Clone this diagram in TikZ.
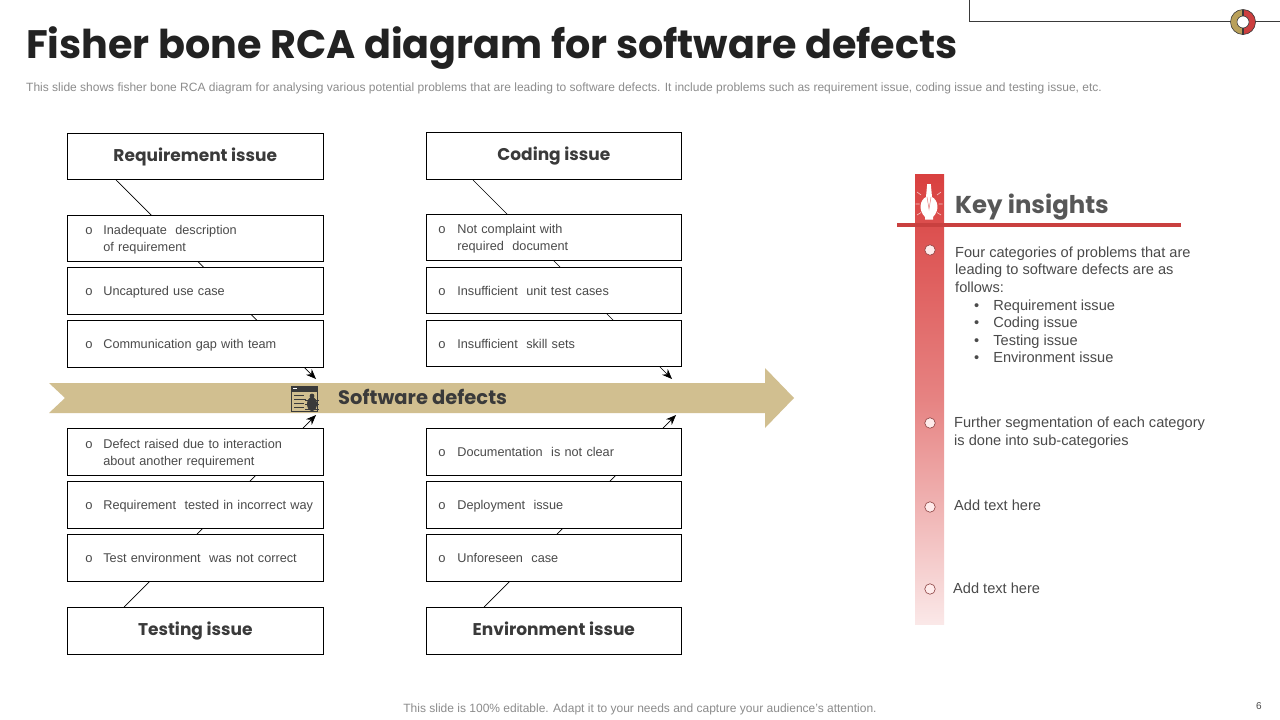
\documentclass[tikz,border=0pt]{standalone}
\usepackage{fontspec}
\setmainfont{Liberation Sans}
\newfontfamily\headfont{Poppins}[BoldFont={* Bold}]
\usetikzlibrary{arrows.meta}
\definecolor{tan}{HTML}{D1BF90}
\definecolor{barred}{HTML}{D9403F}
\definecolor{linered}{HTML}{C9403F}
\definecolor{ink}{HTML}{3A3A3A}
\definecolor{titleink}{HTML}{222222}
\definecolor{itemink}{HTML}{4A4A4A}
\definecolor{subgray}{HTML}{8C8C8C}
\definecolor{ringgold}{HTML}{B9A05A}
\definecolor{ringred}{HTML}{CC3F3F}
\definecolor{markline}{HTML}{8A3F3F}
\tikzset{
 x=1pt,y=-1pt,
 bone/.style={draw=black,line width=0.7pt,-{Stealth[length=10pt,width=8pt]}},
 headbox/.style={draw=black,fill=white,line width=0.7pt,inner sep=0pt,anchor=north west,text height=13pt,text depth=4pt,font=\headfont\bfseries\fontsize{17}{20}\selectfont,text=ink},
 itembox/.style={draw=black,fill=white,line width=0.7pt,anchor=north west,inner xsep=0pt,inner ysep=0pt,align=left,font=\fontsize{12.7}{17}\selectfont,text=itemink},
 leftcol/.style={minimum width=255.9pt},
 rightcol/.style={minimum width=255pt},
 leftitem/.style={itembox,text width=255.9pt},
 rightitem/.style={itembox,text width=255pt},
 marker/.style={circle,draw=markline,line width=0.6pt,fill=white!92!red,minimum size=10.5pt,inner sep=0pt},
 plain/.style={inner sep=0pt,anchor=west,align=left,text=itemink},
}
\newcommand{\lnstrut}{\rule[-3.5pt]{0pt}{12pt}}
\newcommand{\topstrut}{\rule[-3.5pt]{0pt}{16.5pt}}
\newcommand{\bul}[2]{\topstrut\makebox[#2pt][l]{\hspace*{#1pt}\fontsize{13}{13}\selectfont o}}
\newcommand{\LL}{\bul{18}{36}}
\newcommand{\LC}{\lnstrut\hspace*{36pt}}
\newcommand{\RL}{\bul{12}{31}}
\newcommand{\RC}{\lnstrut\hspace*{31pt}}
\begin{document}
\begin{tikzpicture}
\useasboundingbox (0,0) rectangle (1280,720);
\fill[white] (0,0) rectangle (1280,720);
% corner
\draw[ink,line width=0.9pt] (969,0) -- (969,21) -- (1280,21);
\fill[ringgold] (1243,9.5) arc[start angle=-90,end angle=-270,radius=12.5] -- cycle;
\fill[ringred] (1243,9.5) arc[start angle=-90,end angle=90,radius=12.5] -- cycle;
\draw[ink,line width=0.6pt] (1243,22) circle[radius=12.5];
\fill[ink] (1242.3,9.5) rectangle (1243.7,34.5);
\draw[ink,line width=0.6pt,fill=white] (1243,22) circle[radius=6];
% title
\node[anchor=base west,inner sep=0pt,font=\headfont\bfseries\fontsize{39.7}{44}\selectfont,text=titleink] (title) at (26,58) {Fisher bone RCA diagram for software defects};
\node[anchor=west,inner sep=0pt,font=\fontsize{12}{14}\selectfont,text=subgray] (sub) at (26,88) {This slide shows fisher bone RCA diagram for analysing various potential problems that are leading to software defects. It include problems such as requirement issue, coding issue and testing issue, etc.};
% spine
\fill[tan] (49,383) -- (765,383) -- (765,368) -- (794,398) -- (765,428) -- (765,413) -- (49,413) -- (65,398) -- cycle;
\node[anchor=west,inner sep=0pt,font=\headfont\bfseries\fontsize{19.5}{22}\selectfont,text=ink] (spine) at (338,397) {Software defects};
% headers
\node[headbox,leftcol,minimum height=46.4pt] (h1) at (67,133) {Requirement issue};
\node[headbox,rightcol,minimum height=47.4pt] (h2) at (426,132) {Coding issue};
\node[headbox,leftcol,minimum height=47.4pt] (h3) at (67,607) {Testing issue};
\node[headbox,rightcol,minimum height=47.4pt] (h4) at (426,607) {Environment issue};
% bones
\coordinate (t1) at (316,379);
\coordinate (t2) at (672,379);
\coordinate (t3) at (316,415);
\coordinate (t4) at (676,415);
\coordinate (s1) at (116,180);
\coordinate (s2) at (473,180);
\coordinate (s3) at (124,607);
\coordinate (s4) at (484,607);
\draw[bone] (s1) -- (t1);
\draw[bone] (s2) -- (t2);
\draw[bone] (s3) -- (t3);
\draw[bone] (s4) -- (t4);
% left items
\node[leftitem,minimum height=46.4pt] (a1) at (67,215) {\LL Inadequate\ \ description\\\LC of requirement};
\node[leftitem,minimum height=47.4pt] (a2) at (67,267) {\LL Uncaptured use case};
\node[leftitem,minimum height=47.4pt] (a3) at (67,320) {\LL Communication gap with team};
\node[leftitem,minimum height=47.4pt] (a4) at (67,428) {\LL Defect raised due to interaction\\\LC about another requirement};
\node[leftitem,minimum height=47.4pt] (a5) at (67,481) {\LL Requirement\ \ tested in incorrect way};
\node[leftitem,minimum height=47.4pt] (a6) at (67,534) {\LL Test environment\ \ was not correct};
% right items
\node[rightitem,minimum height=46.4pt] (b1) at (426,214) {\RL Not complaint with\\\RC required\ \ document};
\node[rightitem,minimum height=46.4pt] (b2) at (426,267) {\RL Insufficient\ \ unit test cases};
\node[rightitem,minimum height=46.4pt] (b3) at (426,320) {\RL Insufficient\ \ skill sets};
\node[rightitem,minimum height=47.4pt] (b4) at (426,428) {\RL Documentation\ \ is not clear};
\node[rightitem,minimum height=47.4pt] (b5) at (426,481) {\RL Deployment\ \ issue};
\node[rightitem,minimum height=47.4pt] (b6) at (426,534) {\RL Unforeseen\ \ case};
% bug icon
\begin{scope}[ink]
\draw[line width=1pt] (291,386) rectangle (317,411);
\fill (291,386) rectangle (317,391.5);
\draw[white,line width=0.6pt] (293,388.7) -- (297,388.7);
\draw[line width=1pt] (294,395) -- (304,395) (294,399) -- (306,399) (294,403) -- (304,403) (294,407) -- (304,407);
\fill (312,404) ellipse[x radius=5,y radius=7];
\fill (312,396) circle[radius=2.4];
\draw[line width=0.7pt] (305,400) -- (319,400) (305,404.5) -- (319,404.5) (305,409) -- (319,409);
\end{scope}
% key insights bar
\shade[top color=barred,bottom color=barred!12,middle color=barred!65] (915,174) rectangle (944,624);
\fill[linered] (897,223) rectangle (1181,227);
% bulb
\begin{scope}[white]
\fill (927.2,184) -- (930.8,184) -- (932,197) .. controls (938,200) and (940,210) .. (933,217) -- (933,219.5) -- (925,219.5) -- (925,217) .. controls (918,210) and (920,200) .. (926,197) -- cycle;
\draw[line width=0.6pt,white!70!barred] (917,192) -- (921,195) (941,192) -- (937,195) (915.5,204) -- (919.5,204) (942.5,204) -- (938.5,204) (917,215) -- (921,212.5) (941,215) -- (937,212.5);
\draw[barred!70,line width=0.5pt] (927,197) -- (929,209) -- (931,197);
\end{scope}
\node[anchor=base west,inner sep=0pt,font=\headfont\bfseries\fontsize{24.4}{30}\selectfont,text=ink!85] (key) at (955,213) {Key insights};
\node[marker] (m1) at (930,250) {};
\node[marker] (m2) at (930,423) {};
\node[marker] (m3) at (930,507) {};
\node[marker] (m4) at (930,589) {};
\node[plain,anchor=north west,font=\fontsize{14.6}{17.6}\selectfont] (t1a) at (955,246.5) {Four categories of problems that are\\leading to software defects are as\\follows:\\\hspace*{19pt}•\hspace*{14pt}Requirement issue\\\hspace*{19pt}•\hspace*{14pt}Coding issue\\\hspace*{19pt}•\hspace*{14pt}Testing issue\\\hspace*{19pt}•\hspace*{14pt}Environment issue};
\node[plain,anchor=north west,font=\fontsize{14.6}{18}\selectfont] (t2a) at (954,416.5) {Further segmentation of each category\\is done into sub-categories};
\node[plain,font=\fontsize{14.6}{17.6}\selectfont] (t3a) at (954,505) {Add text here};
\node[plain,font=\fontsize{14.6}{17.6}\selectfont] (t4a) at (953,588) {Add text here};
% footer
\node[inner sep=0pt,font=\fontsize{12}{14}\selectfont,text=subgray] (foot) at (640,709) {This slide is 100\% editable. Adapt it to your needs and capture your audience's attention.};
\node[inner sep=0pt,font=\fontsize{10}{12}\selectfont,text=itemink] (page) at (1259,706) {6};
\end{tikzpicture}
\end{document}
